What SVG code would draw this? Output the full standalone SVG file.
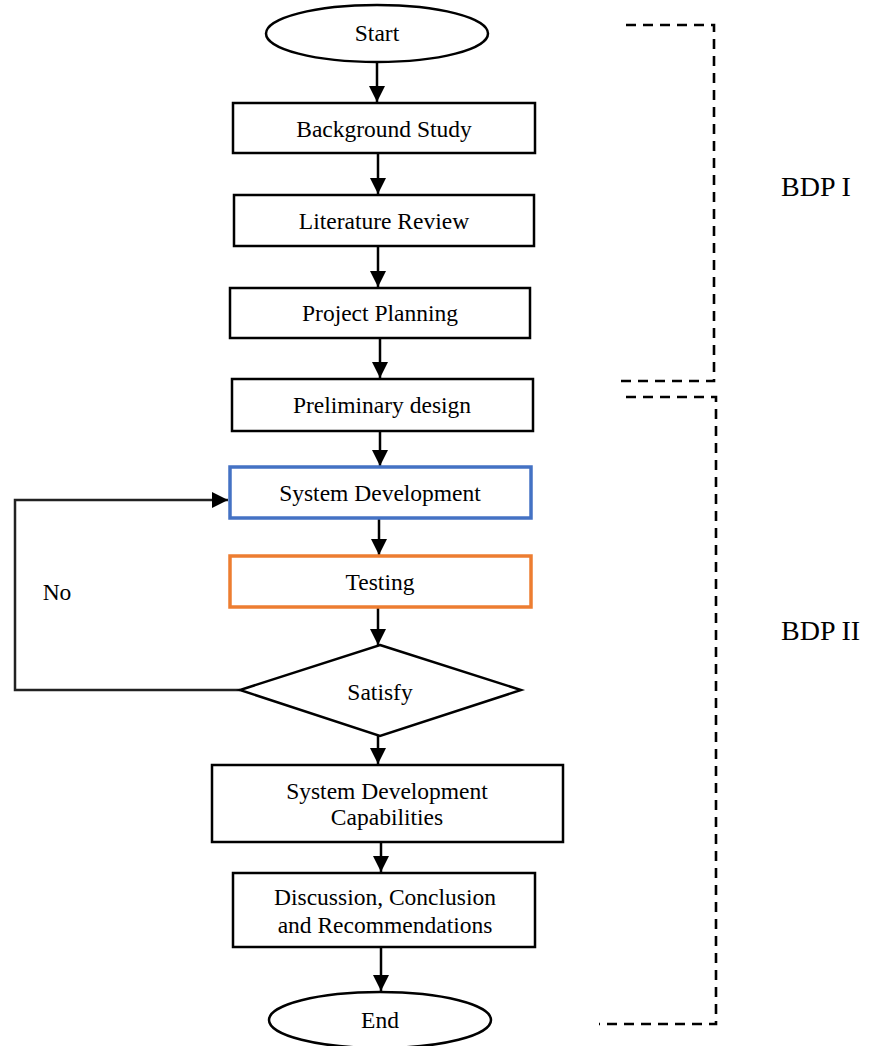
<svg xmlns="http://www.w3.org/2000/svg" width="872" height="1046" viewBox="0 0 872 1046">
<defs>
<marker id="ah" markerUnits="userSpaceOnUse" markerWidth="16" markerHeight="16" viewBox="0 0 16 16" refX="16" refY="8" orient="auto">
<path d="M0,0 L16,8 L0,16 Z" fill="#000"/>
</marker>
<style>
.box{fill:#fff;stroke:#000;stroke-width:2.5}
.t{font-family:"Liberation Serif","Times New Roman",serif;font-size:23.5px;fill:#000;text-anchor:middle}
.big{font-family:"Liberation Serif","Times New Roman",serif;font-size:28px;fill:#000}
.c{fill:none;stroke:#000;stroke-width:2.5}
.d{fill:none;stroke:#000;stroke-width:2.6;stroke-dasharray:10 7}
</style>
</defs>
<rect width="872" height="1046" fill="#fff"/>
<g id="connectors">
<line class="c" x1="377" y1="62" x2="377" y2="102" marker-end="url(#ah)"/>
<line class="c" x1="378" y1="153" x2="378" y2="194" marker-end="url(#ah)"/>
<line class="c" x1="378" y1="246" x2="378" y2="287" marker-end="url(#ah)"/>
<line class="c" x1="380" y1="338" x2="380" y2="378" marker-end="url(#ah)"/>
<line class="c" x1="380" y1="431" x2="380" y2="466" marker-end="url(#ah)"/>
<line class="c" x1="379" y1="518" x2="379" y2="555" marker-end="url(#ah)"/>
<line class="c" x1="378" y1="608" x2="378" y2="645" marker-end="url(#ah)"/>
<line class="c" x1="378" y1="736" x2="378" y2="764" marker-end="url(#ah)"/>
<line class="c" x1="381" y1="842" x2="381" y2="872" marker-end="url(#ah)"/>
<line class="c" x1="381" y1="947" x2="381" y2="991" marker-end="url(#ah)"/>
<polyline fill="none" stroke="#222" stroke-width="2.5" points="240,690 15,690 15,500 228,500" marker-end="url(#ah)"/>
<text class="t" x="57" y="600">No</text>
</g>
<g id="start"><ellipse class="box" cx="377" cy="33.5" rx="111" ry="28.5"/><text class="t" x="377" y="41">Start</text></g>
<g id="background"><rect class="box" x="233" y="103" width="302" height="50"/><text class="t" x="384" y="137">Background Study</text></g>
<g id="literature"><rect class="box" x="234" y="195" width="300" height="51"/><text class="t" x="384" y="229">Literature Review</text></g>
<g id="planning"><rect class="box" x="230" y="288" width="300" height="50"/><text class="t" x="380" y="321">Project Planning</text></g>
<g id="preliminary"><rect class="box" x="232" y="379" width="301" height="52"/><text class="t" x="382" y="413">Preliminary design</text></g>
<g id="sysdev"><rect x="230" y="467" width="301" height="51" fill="#fff" stroke="#4472C4" stroke-width="3.5"/><text class="t" x="380" y="501">System Development</text></g>
<g id="testing"><rect x="230" y="556" width="301" height="51" fill="#fff" stroke="#ED7D31" stroke-width="3.5"/><text class="t" x="380" y="590">Testing</text></g>
<g id="satisfy"><polygon class="box" points="380,645 521,690 380,736 240,690"/><text class="t" x="380" y="700">Satisfy</text></g>
<g id="capabilities"><rect class="box" x="212" y="765" width="351" height="77"/><text class="t" x="387" y="799">System Development</text><text class="t" x="387" y="825">Capabilities</text></g>
<g id="discussion"><rect class="box" x="233" y="873" width="302" height="74"/><text class="t" x="385" y="905">Discussion, Conclusion</text><text class="t" x="385" y="933">and Recommendations</text></g>
<g id="end"><ellipse class="box" cx="380" cy="1020" rx="111" ry="28"/><text class="t" x="380" y="1028">End</text></g>
<g id="bdp1"><polyline class="d" points="626,25 714,25 714,381 617,381"/><text class="big" x="781" y="196">BDP I</text></g>
<g id="bdp2"><polyline class="d" points="626,397 716,397 716,1024 599,1024"/><text class="big" x="781" y="640">BDP II</text></g>
</svg>
